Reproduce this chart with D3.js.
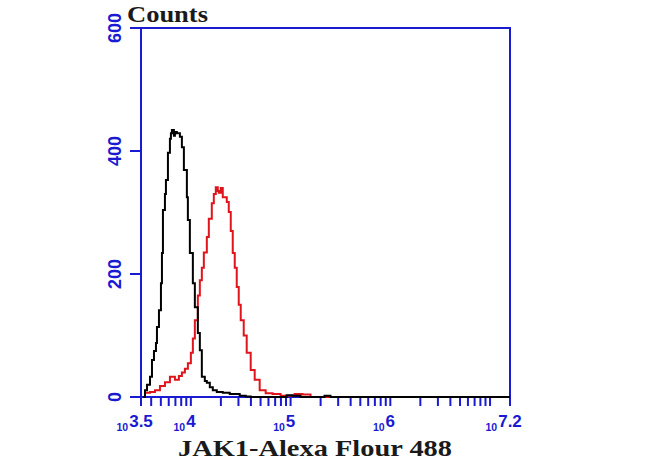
<!DOCTYPE html>
<html><head><meta charset="utf-8">
<script src="https://cdn.jsdelivr.net/npm/d3@7"></script>
<style>body{margin:0;background:#fff}</style>
</head><body>
<svg id="c" width="650" height="462"></svg>
<script>
// log10 fluorescence intensity bins and counts
const blackExp = [3.52,3.54,3.56,3.59,3.61,3.63,3.65,3.66,3.68,3.70,3.71,3.72,3.74,3.75,3.77,3.79,3.80,3.81,3.83,3.84,3.86,3.89,3.91,3.93,3.96,3.97,3.99,4.02,4.04,4.07,4.09,4.11,4.14,4.16,4.19,4.22,4.26,4.32,4.39,4.49,4.55,4.60,4.90,4.96,5.02,5.10,5.30,5.34,5.40,7.2];
const blackCnt = [0,11,20,33,60,75,88,114,141,185,234,304,330,353,397,420,429,434,425,431,429,423,406,369,325,288,234,185,146,104,76,33,26,23,16,11,8,7,5,2,1,0,0,3,2,0,0,2,0,0];
const redExp = [3.52,3.54,3.59,3.64,3.69,3.74,3.79,3.84,3.88,3.91,3.94,3.97,4.00,4.02,4.04,4.07,4.09,4.11,4.13,4.16,4.18,4.21,4.23,4.25,4.27,4.28,4.30,4.32,4.34,4.36,4.38,4.40,4.42,4.44,4.46,4.48,4.50,4.53,4.56,4.60,4.64,4.69,4.75,4.82,4.90,5.04,5.12,5.20,7.2];
const redCnt = [0,7,8,11,18,24,33,28,34,40,46,55,72,95,125,165,190,210,235,260,290,315,330,341,335,332,340,325,325,317,301,270,234,210,179,150,125,100,72,44,28,11,6,5,2,5,4,0,0];
const yTicks = [0,200,400,600];
const xLabelExp = ["3.5","4","5","6","7.2"];
const xTitle = "JAK1-Alexa Flour 488";
const yTitle = "Counts";

const svg = d3.select("#c");
const L=141, R=510, T=28, B=397;
const blue = "#1a1ad2";
const x = d3.scaleLog().domain([Math.pow(10,3.5), Math.pow(10,7.2)]).range([L,R]);
const y = d3.scaleLinear().domain([0,600]).range([B,T]);

// frame
svg.append("rect").attr("x",L).attr("y",T).attr("width",R-L).attr("height",B-T)
  .attr("fill","none").attr("stroke",blue).attr("stroke-width",2);

// x ticks
const xt = [Math.pow(10,3.5)];
for (let k=3;k<=7;k++) for (let m=1;m<=9;m++){const v=m*Math.pow(10,k); if (v>Math.pow(10,3.5)+1 && v<Math.pow(10,7.2)) xt.push(v);}
xt.push(Math.pow(10,7.2));
svg.selectAll(".xt").data(xt).enter().append("line")
  .attr("x1",d=>x(d)).attr("x2",d=>x(d)).attr("y1",B).attr("y2",B+9)
  .attr("stroke",blue).attr("stroke-width",2);
// x tick labels
const xl = svg.selectAll(".xl").data(xLabelExp).enter().append("g")
  .attr("transform",d=>`translate(${x(Math.pow(10,+d))},0)`);
xl.append("text").attr("y",427).attr("text-anchor","middle")
  .attr("font-family","Liberation Sans, Arial, sans-serif").attr("font-weight","bold")
  .attr("font-size",17).attr("fill",blue).text(d=>d)
  .each(function(){ const w=this.getComputedTextLength(); d3.select(this.parentNode).append("text")
     .attr("x",-w/2-1).attr("y",431).attr("text-anchor","end")
     .attr("font-family","Liberation Sans, Arial, sans-serif").attr("font-weight","bold")
     .attr("font-size",10.5).attr("fill",blue).text("10");});

// y ticks
svg.selectAll(".yt").data(yTicks).enter().append("line")
  .attr("x1",L-11).attr("x2",L).attr("y1",d=>y(d)).attr("y2",d=>y(d))
  .attr("stroke",blue).attr("stroke-width",2);
svg.selectAll(".yl").data(yTicks).enter().append("text")
  .attr("transform",d=>`translate(121,${y(d)}) rotate(-90)`).attr("text-anchor","middle")
  .attr("font-family","Liberation Sans, Arial, sans-serif").attr("font-weight","bold")
  .attr("font-size",18).attr("fill",blue).text(d=>d);

// curves
const line = d3.line().x(d=>x(Math.pow(10,d[0]))).y(d=>y(d[1])).curve(d3.curveStepAfter);
svg.append("path").datum(redExp.map((e,i)=>[e,redCnt[i]])).attr("d",line)
  .attr("fill","none").attr("stroke","#e0141c").attr("stroke-width",2);
svg.append("path").datum(blackExp.map((e,i)=>[e,blackCnt[i]])).attr("d",line)
  .attr("fill","none").attr("stroke","#000").attr("stroke-width",2);

// titles
svg.append("text").attr("x",127).attr("y",22)
  .attr("font-family","Liberation Serif, Times New Roman, serif").attr("font-weight","bold")
  .attr("font-size",24).attr("fill","#1a1a1a").attr("textLength",81).attr("lengthAdjust","spacingAndGlyphs").text(yTitle);
svg.append("text").attr("x",178).attr("y",456)
  .attr("font-family","Liberation Serif, Times New Roman, serif").attr("font-weight","bold")
  .attr("font-size",24).attr("fill","#1a1a1a").attr("textLength",274).attr("lengthAdjust","spacingAndGlyphs").text(xTitle);
</script>
</body></html>
